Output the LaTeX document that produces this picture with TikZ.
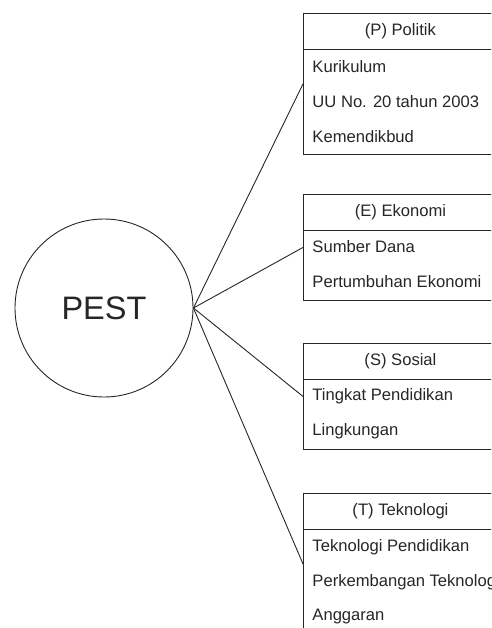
\documentclass[tikz,border=0pt]{standalone}
\usepackage{fontspec}
\setmainfont{Liberation Sans}

\begin{document}
\begin{tikzpicture}[x=1pt, y=-1pt, line width=0.9pt, draw=black!85,
  every node/.style={font=\fontsize{16.6}{19}\selectfont, text=black!85},
  box/.style={draw, rectangle, anchor=north west, minimum width=194pt, inner sep=0pt},
  head/.style={box, minimum height=36pt},
  item/.style={anchor=west, inner sep=0pt}]
  \useasboundingbox (0,0) rectangle (491,628);
  \clip (0,0) rectangle (491,628);

  \node[draw, circle, minimum size=178pt, font=\fontsize{32.5}{38}\selectfont] (pest) at (104,308) {PEST};

  % (P)
  \node[box, minimum height=141pt] (politik) at (303,13) {};
  \node[head] (politik head) at (politik.north west) {(P) Politik};
  \node[item] (kurikulum) at (312,67) {Kurikulum};
  \node[item] (uu) at (312,102) {UU No. 20 tahun 2003};
  \node[item] (kemendikbud) at (312,137) {Kemendikbud};

  % (E)
  \node[box, minimum height=106pt] (ekonomi) at (303,194) {};
  \node[head] (ekonomi head) at (ekonomi.north west) {(E) Ekonomi};
  \node[item] (dana) at (312,247) {Sumber Dana};
  \node[item] (pertumbuhan) at (312,282) {Pertumbuhan Ekonomi};

  % (S)
  \node[box, minimum height=106pt] (sosial) at (303,343) {};
  \node[head] (sosial head) at (sosial.north west) {(S) Sosial};
  \node[item] (tingkat) at (312,396) {Tingkat Pendidikan};
  \node[item] (lingkungan) at (312,431) {Lingkungan};

  % (T)
  \node[box, minimum height=141pt] (teknologi) at (303,493) {};
  \node[head] (teknologi head) at (teknologi.north west) {(T) Teknologi};
  \node[item] (tekpen) at (312,547) {Teknologi Pendidikan};
  \node[item] (perkembangan) at (312,582) {Perkembangan Teknologi};
  \node[item] (anggaran) at (312,617) {Anggaran};

  \draw (pest.east) -- (politik.west);
  \draw (pest.east) -- (ekonomi.west);
  \draw (pest.east) -- (sosial.west);
  \draw (pest.east) -- (teknologi.west);
\end{tikzpicture}
\end{document}
